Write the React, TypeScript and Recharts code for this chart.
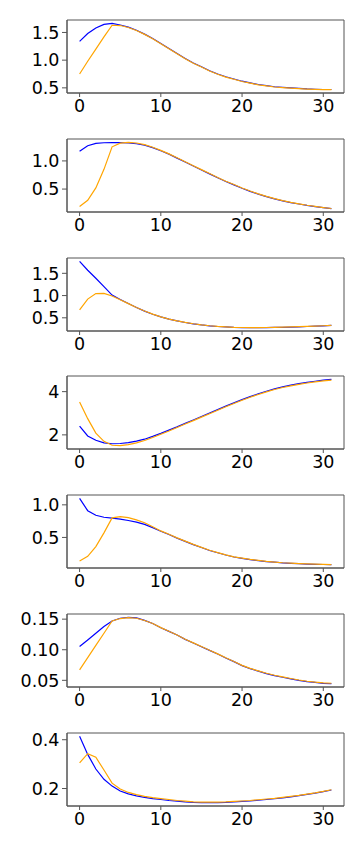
import React from 'react';
import { LineChart, Line, XAxis, YAxis, ReferenceArea } from 'recharts';

const steps = [0, 1, 2, 3, 4, 5, 6, 7, 8, 9, 10, 11, 12, 13, 14, 15, 16, 17, 18, 19, 20, 21, 22, 23, 24, 25, 26, 27, 28, 29, 30, 31];
const xTicks = [0, 10, 20, 30];

const p1Blue = [1.34, 1.48, 1.58, 1.645, 1.665, 1.635, 1.595, 1.54, 1.47, 1.39, 1.30, 1.21, 1.12, 1.03, 0.95, 0.88, 0.81, 0.75, 0.70, 0.66, 0.62, 0.59, 0.56, 0.54, 0.52, 0.51, 0.50, 0.49, 0.48, 0.475, 0.47, 0.47];
const p1Orange = [0.75, 0.98, 1.20, 1.42, 1.63, 1.625, 1.59, 1.535, 1.465, 1.385, 1.295, 1.205, 1.115, 1.025, 0.945, 0.875, 0.805, 0.745, 0.695, 0.655, 0.615, 0.585, 0.555, 0.535, 0.515, 0.505, 0.495, 0.485, 0.478, 0.472, 0.468, 0.467];
const p1Ticks = [0.5, 1.0, 1.5];

const p2Blue = [1.17, 1.27, 1.31, 1.322, 1.325, 1.323, 1.318, 1.305, 1.28, 1.235, 1.18, 1.12, 1.05, 0.98, 0.91, 0.84, 0.77, 0.70, 0.635, 0.575, 0.515, 0.46, 0.41, 0.365, 0.325, 0.29, 0.26, 0.235, 0.21, 0.19, 0.17, 0.152];
const p2Orange = [0.19, 0.30, 0.52, 0.85, 1.25, 1.315, 1.33, 1.318, 1.29, 1.243, 1.187, 1.125, 1.055, 0.985, 0.915, 0.845, 0.775, 0.705, 0.64, 0.58, 0.52, 0.465, 0.415, 0.37, 0.33, 0.295, 0.264, 0.238, 0.213, 0.192, 0.172, 0.155];
const p2Ticks = [0.5, 1.0];

const p3Blue = [1.77, 1.57, 1.39, 1.2, 1.01, 0.91, 0.82, 0.73, 0.65, 0.58, 0.52, 0.47, 0.43, 0.395, 0.365, 0.34, 0.32, 0.305, 0.295, 0.285, 0.28, 0.278, 0.278, 0.28, 0.283, 0.287, 0.292, 0.298, 0.305, 0.312, 0.32, 0.33];
const p3Orange = [0.68, 0.92, 1.045, 1.05, 0.99, 0.905, 0.818, 0.73, 0.652, 0.582, 0.522, 0.472, 0.432, 0.397, 0.367, 0.342, 0.322, 0.307, 0.297, 0.287, 0.282, 0.28, 0.28, 0.282, 0.285, 0.289, 0.294, 0.3, 0.307, 0.314, 0.322, 0.332];
const p3Ticks = [0.5, 1.0, 1.5];

const p4Blue = [2.40, 1.95, 1.75, 1.63, 1.59, 1.60, 1.64, 1.71, 1.80, 1.93, 2.07, 2.22, 2.37, 2.53, 2.69, 2.85, 3.01, 3.17, 3.33, 3.48, 3.63, 3.77, 3.90, 4.02, 4.13, 4.22, 4.30, 4.37, 4.43, 4.48, 4.53, 4.57];
const p4Orange = [3.52, 2.75, 2.08, 1.70, 1.52, 1.50, 1.55, 1.63, 1.74, 1.88, 2.03, 2.18, 2.34, 2.50, 2.66, 2.82, 2.98, 3.14, 3.30, 3.45, 3.60, 3.74, 3.87, 3.99, 4.10, 4.19, 4.27, 4.34, 4.40, 4.45, 4.50, 4.53];
const p4Ticks = [2, 4];

const p5Blue = [1.10, 0.91, 0.84, 0.81, 0.795, 0.78, 0.76, 0.735, 0.70, 0.65, 0.595, 0.545, 0.49, 0.44, 0.39, 0.345, 0.30, 0.265, 0.23, 0.20, 0.18, 0.16, 0.145, 0.13, 0.12, 0.11, 0.103, 0.097, 0.092, 0.088, 0.085, 0.082];
const p5Orange = [0.14, 0.21, 0.36, 0.57, 0.80, 0.82, 0.805, 0.77, 0.725, 0.665, 0.60, 0.548, 0.493, 0.443, 0.393, 0.348, 0.303, 0.268, 0.233, 0.203, 0.182, 0.162, 0.147, 0.132, 0.122, 0.112, 0.105, 0.099, 0.094, 0.09, 0.087, 0.084];
const p5Ticks = [0.5, 1.0];

const p6Blue = [0.1054, 0.116, 0.127, 0.138, 0.147, 0.1515, 0.153, 0.152, 0.148, 0.143, 0.136, 0.13, 0.124, 0.117, 0.111, 0.105, 0.099, 0.093, 0.0865, 0.0805, 0.074, 0.069, 0.065, 0.061, 0.0578, 0.055, 0.0525, 0.050, 0.048, 0.0465, 0.045, 0.0445];
const p6Orange = [0.067, 0.087, 0.107, 0.127, 0.147, 0.151, 0.1525, 0.1515, 0.1478, 0.1428, 0.1362, 0.1302, 0.1242, 0.1172, 0.1112, 0.1052, 0.0992, 0.0932, 0.0868, 0.0808, 0.0745, 0.0695, 0.0655, 0.0615, 0.0583, 0.0555, 0.053, 0.0505, 0.0485, 0.047, 0.0458, 0.0452];
const p6Ticks = [0.05, 0.10, 0.15];

const p7Blue = [0.414, 0.34, 0.28, 0.238, 0.21, 0.19, 0.178, 0.17, 0.164, 0.159, 0.155, 0.151, 0.148, 0.145, 0.143, 0.142, 0.142, 0.142, 0.143, 0.145, 0.147, 0.149, 0.152, 0.155, 0.158, 0.162, 0.166, 0.171, 0.176, 0.181, 0.187, 0.194];
const p7Orange = [0.305, 0.343, 0.328, 0.276, 0.222, 0.198, 0.184, 0.175, 0.168, 0.163, 0.159, 0.155, 0.151, 0.148, 0.145, 0.144, 0.144, 0.144, 0.145, 0.147, 0.149, 0.151, 0.154, 0.157, 0.160, 0.164, 0.168, 0.172, 0.177, 0.182, 0.188, 0.195];
const p7Ticks = [0.2, 0.4];

const panels = [
  { blue: p1Blue, orange: p1Orange, ticks: p1Ticks, dec: 1 },
  { blue: p2Blue, orange: p2Orange, ticks: p2Ticks, dec: 1 },
  { blue: p3Blue, orange: p3Orange, ticks: p3Ticks, dec: 1 },
  { blue: p4Blue, orange: p4Orange, ticks: p4Ticks, dec: 0 },
  { blue: p5Blue, orange: p5Orange, ticks: p5Ticks, dec: 1 },
  { blue: p6Blue, orange: p6Orange, ticks: p6Ticks, dec: 2 },
  { blue: p7Blue, orange: p7Orange, ticks: p7Ticks, dec: 1 },
];

const PANEL_TOPS = [20, 138.8, 257.6, 376.4, 495.2, 614, 732.8];
const MT = 5;
const PLOT_H = 73;
const XAX_H = 30;
const FONT = { fill: '#000', fontSize: 17.5, fontFamily: 'DejaVu Sans' };
const FRAME = '#555';
const X_DOMAIN: [number, number] = [-1.55, 32.55];

function Panel({ p }: { p: typeof panels[number] }) {
  const data = steps.map((x, i) => ({ x, blue: p.blue[i], orange: p.orange[i] }));
  const all = [...p.blue, ...p.orange];
  const lo = Math.min(...all);
  const hi = Math.max(...all);
  const pad = (hi - lo) * 0.05;
  const yDomain: [number, number] = [lo - pad, hi + pad];
  return (
    <LineChart
      width={364}
      height={MT + PLOT_H + XAX_H}
      data={data}
      margin={{ top: MT, right: 20, left: 0, bottom: 0 }}
    >
      <XAxis
        dataKey="x"
        type="number"
        domain={X_DOMAIN}
        allowDataOverflow
        ticks={xTicks}
        interval={0}
        stroke={FRAME}
        tickSize={4}
        tickMargin={3}
        tick={FONT}
        height={XAX_H}
      />
      <YAxis
        type="number"
        domain={yDomain}
        allowDataOverflow
        ticks={p.ticks}
        interval={0}
        stroke={FRAME}
        tickSize={5}
        tickMargin={2.5}
        tick={FONT}
        tickFormatter={(v: number) => v.toFixed(p.dec)}
        width={67}
      />
      <Line dataKey="blue" stroke="#0000ff" strokeWidth={1.2} dot={false} isAnimationActive={false} />
      <Line dataKey="orange" stroke="#ffa500" strokeWidth={1.2} dot={false} isAnimationActive={false} />
      <ReferenceArea
        x1={X_DOMAIN[0]}
        x2={X_DOMAIN[1]}
        y1={yDomain[0]}
        y2={yDomain[1]}
        fill="none"
        fillOpacity={0}
        stroke={FRAME}
        strokeWidth={1}
        ifOverflow="visible"
      />
    </LineChart>
  );
}

export default function App() {
  return (
    <div style={{ position: 'absolute', left: 0, top: 0, width: 364, height: 850, background: '#fff' }}>
      {panels.map((p, i) => (
        <div key={i} style={{ position: 'absolute', left: 0, top: PANEL_TOPS[i] - MT }}>
          <Panel p={p} />
        </div>
      ))}
    </div>
  );
}
